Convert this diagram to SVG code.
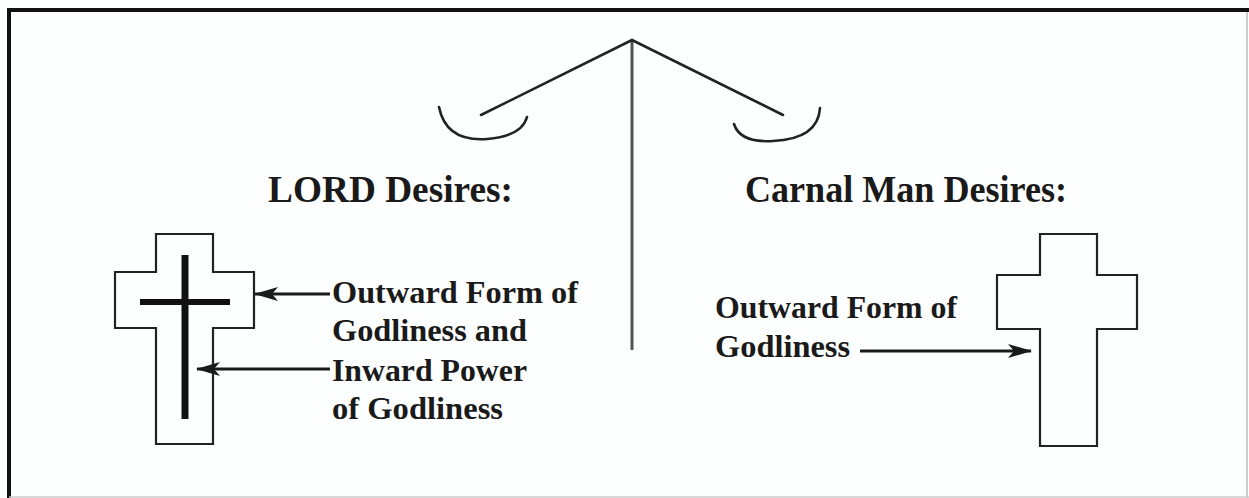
<svg xmlns="http://www.w3.org/2000/svg" width="1249" height="498" viewBox="0 0 1249 498">
  <style>
    .t { font-family: "Liberation Serif", "Times New Roman", serif; font-weight: bold; fill: #1a1a1a; }
    .h { font-size: 37px; }
    .b { font-size: 32px; }
    .outline { fill: none; stroke: #222; stroke-width: 2.2; }
    .line { fill: none; stroke: #222; stroke-width: 2.6; stroke-linecap: round; }
    .conn { stroke: #1a1a1a; stroke-width: 3; fill: none; }
  </style>
  <defs>
    <marker id="ah" viewBox="0 0 24 14" refX="23" refY="7" markerWidth="24" markerHeight="14" markerUnits="userSpaceOnUse" orient="auto">
      <path d="M0,0 L24,7 L0,14 L6,7 Z" fill="#1a1a1a"/>
    </marker>
  </defs>
  <rect x="0" y="0" width="1249" height="498" fill="#fdfefe"/>
  <g id="frame">
    <line x1="9" y1="10" x2="1249" y2="10" stroke="#111" stroke-width="4"/>
    <line x1="9" y1="8" x2="9" y2="498" stroke="#111" stroke-width="4"/>
    <line x1="1247" y1="12" x2="1247" y2="498" stroke="#bbb" stroke-width="1.5"/>
    <line x1="9" y1="497" x2="1249" y2="497" stroke="#ccc" stroke-width="1.5"/>
  </g>
  <g id="scale">
    <line x1="632" y1="40" x2="632" y2="350" stroke="#555" stroke-width="3"/>
    <polyline class="line" points="481,115 632,40 783,115"/>
    <path class="line" d="M439,107 Q446,142 487,139 Q522,136 527,117"/>
    <path class="line" d="M734,124 Q740,143 773,141 Q818,139 820,108"/>
  </g>
  <g id="lord-heading"><text class="t h" x="268" y="202" textLength="245" lengthAdjust="spacingAndGlyphs">LORD Desires:</text></g>
  <g id="carnal-heading"><text class="t h" x="745" y="202" textLength="322" lengthAdjust="spacingAndGlyphs">Carnal Man Desires:</text></g>
  <g id="lord-cross">
    <path class="outline" d="M156,234 H213 V272 H254 V328 H213 V444 H156 V328 H115 V272 H156 Z"/>
    <line x1="185" y1="255" x2="185" y2="419" stroke="#111" stroke-width="7"/>
    <line x1="140" y1="302" x2="230" y2="302" stroke="#111" stroke-width="6"/>
  </g>
  <g id="lord-text">
    <text class="t b" x="332" y="303" textLength="246" lengthAdjust="spacingAndGlyphs">Outward Form of</text>
    <text class="t b" x="332" y="341" textLength="195" lengthAdjust="spacingAndGlyphs">Godliness and</text>
    <text class="t b" x="332" y="381" textLength="195" lengthAdjust="spacingAndGlyphs">Inward Power</text>
    <text class="t b" x="332" y="419" textLength="171" lengthAdjust="spacingAndGlyphs">of Godliness</text>
  </g>
  <g id="carnal-cross">
    <path class="outline" d="M1040,234 H1097 V275 H1137 V329 H1097 V446 H1040 V329 H997 V275 H1040 Z"/>
  </g>
  <g id="carnal-text">
    <text class="t b" x="715" y="318" textLength="242" lengthAdjust="spacingAndGlyphs">Outward Form of</text>
    <text class="t b" x="715" y="357" textLength="135" lengthAdjust="spacingAndGlyphs">Godliness</text>
  </g>
  <g id="connectors">
    <line class="conn" x1="330" y1="294" x2="255" y2="294" marker-end="url(#ah)"/>
    <line class="conn" x1="330" y1="369" x2="197" y2="369" marker-end="url(#ah)"/>
    <line class="conn" x1="860" y1="351" x2="1031" y2="351" marker-end="url(#ah)"/>
  </g>
</svg>
